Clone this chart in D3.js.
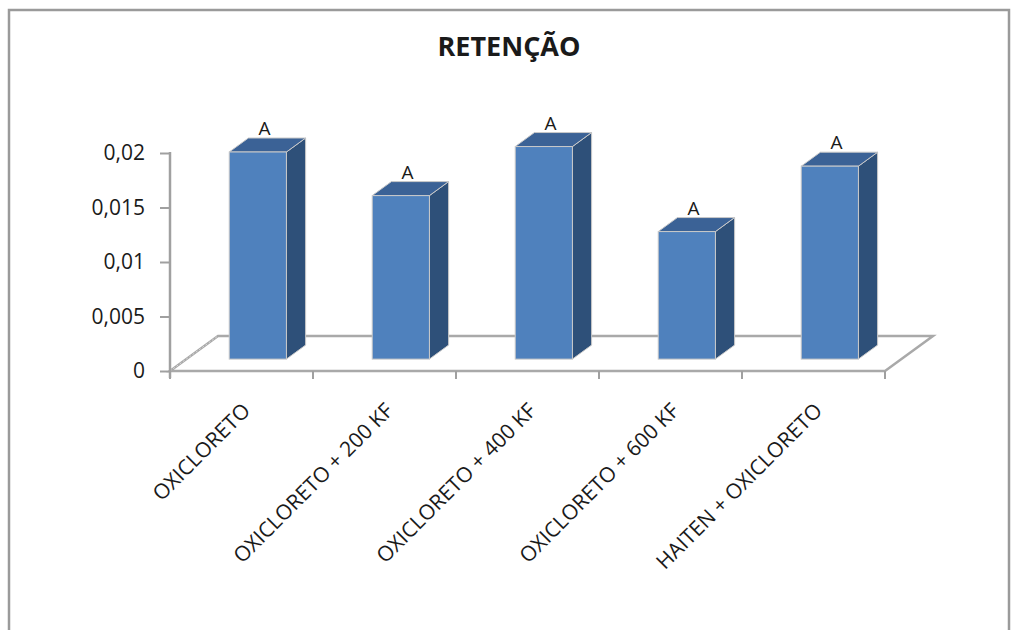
<!DOCTYPE html>
<html>
<head>
<meta charset="utf-8">
<script src="https://cdn.jsdelivr.net/npm/d3@7"></script>
<style>
  body { margin: 0; background: #fff; }
  text { font-family: "Open Sans", sans-serif; fill: #1a1a1a; }
</style>
</head>
<body>
<div class="chart"></div>
<script>
var categories = ["OXICLORETO", "OXICLORETO + 200 KF", "OXICLORETO + 400 KF", "OXICLORETO + 600 KF", "HAITEN + OXICLORETO"];
var values = [0.0190, 0.0150, 0.0195, 0.0117, 0.0177];
var letters = ["A", "A", "A", "A", "A"];
var yTicks = [0, 0.005, 0.01, 0.015, 0.02];

var width = 1021, height = 630;
var plot = {left: 170, right: 885, bottom: 371, top: 153};
var depth = {dx: 48, dy: -35}; // floor depth (oblique)
var barFront = 0.34, barBack = 0.74; // position of bar faces inside floor depth

var svg = d3.select(".chart").append("svg")
    .attr("width", width)
    .attr("height", height);

// outer border
svg.append("rect")
    .attr("x", 9).attr("y", 10)
    .attr("width", 1000).attr("height", 640)
    .attr("fill", "none")
    .attr("stroke", "#9a9a9a")
    .attr("stroke-width", 2.5);

var x = d3.scaleBand()
    .domain(categories)
    .range([plot.left, plot.right])
    .paddingInner(0.6)
    .paddingOuter(0.3);

var y = d3.scaleLinear()
    .domain([0, 0.02])
    .range([plot.bottom, plot.top]);

// floor
var fx = depth.dx, fy = depth.dy;
var floor = svg.append("g").attr("class", "floor");
floor.append("path")
    .attr("d", "M" + plot.left + "," + y(0) + "L" + (plot.left + fx) + "," + (y(0) + fy) +
               "L" + (plot.right + fx) + "," + (y(0) + fy) + "L" + plot.right + "," + y(0) + "Z")
    .attr("fill", "none")
    .attr("stroke", "#a9a9a9")
    .attr("stroke-width", 2.5);
floor.append("path")
    .attr("d", "M" + plot.left + "," + y(0) + "L" + (plot.left + fx) + "," + (y(0) + fy))
    .attr("stroke", "#d8d8d8")
    .attr("stroke-width", 1)
    .attr("stroke-dasharray", "2,2");

// y axis
var yAxis = d3.axisLeft(y)
    .tickValues(yTicks)
    .tickSize(10)
    .tickPadding(15)
    .tickFormat(function(d) { return String(d).replace(".", ","); });

var gy = svg.append("g")
    .attr("transform", "translate(" + plot.left + ",0)")
    .call(yAxis);
gy.select(".domain").attr("stroke", "#a0a0a0").attr("stroke-width", 2.5)
    .attr("d", "M0," + (plot.top - 1) + "V" + (plot.bottom + 7));
gy.selectAll(".tick line").attr("stroke", "#a0a0a0").attr("stroke-width", 2);
gy.selectAll(".tick text")
    .style("font-size", "21px")
    .attr("fill", "#2a2a2a");

// x tick marks on the front edge
var step = x.step();
var bounds = d3.range(categories.length + 1).map(function(i) { return plot.left + i * step; });
svg.append("g").selectAll("line")
    .data(bounds)
    .enter().append("line")
    .attr("x1", function(d) { return d; })
    .attr("x2", function(d) { return d; })
    .attr("y1", y(0))
    .attr("y2", y(0) + 8)
    .attr("stroke", "#a0a0a0")
    .attr("stroke-width", 2);

// bars
var bw = x.bandwidth();
var f0x = fx * barFront, f0y = fy * barFront;
var bdx = fx * (barBack - barFront), bdy = fy * (barBack - barFront);

var bars = svg.append("g").selectAll(".bar")
    .data(values)
    .enter().append("g")
    .attr("class", "bar")
    .attr("transform", function(d, i) { return "translate(" + (x(categories[i]) + f0x) + "," + f0y + ")"; });

// right side face
bars.append("path")
    .attr("d", function(d) {
      var t = y(d), b = y(0);
      return "M" + bw + "," + t + "L" + (bw + bdx) + "," + (t + bdy) + "L" + (bw + bdx) + "," + (b + bdy) + "L" + bw + "," + b + "Z";
    })
    .attr("fill", "#2e5079")
    .attr("stroke", "#c9c9c9")
    .attr("stroke-width", 1);

// top face
bars.append("path")
    .attr("d", function(d) {
      var t = y(d);
      return "M0," + t + "L" + bdx + "," + (t + bdy) + "L" + (bw + bdx) + "," + (t + bdy) + "L" + bw + "," + t + "Z";
    })
    .attr("fill", "#3b6296")
    .attr("stroke", "#c9c9c9")
    .attr("stroke-width", 1);

// front face
bars.append("rect")
    .attr("x", 0)
    .attr("y", function(d) { return y(d); })
    .attr("width", bw)
    .attr("height", function(d) { return y(0) - y(d); })
    .attr("fill", "#4f81bd")
    .attr("stroke", "#c9c9c9")
    .attr("stroke-width", 1);

// letters
bars.append("text")
    .attr("x", bw / 2 + bdx / 2 - 3)
    .attr("y", function(d) { return y(d) + bdy - 3; })
    .attr("text-anchor", "middle")
    .style("font-size", "19px")
    .text(function(d, i) { return letters[i]; });

// category labels
svg.append("g").selectAll("text")
    .data(categories)
    .enter().append("text")
    .attr("transform", function(d) { return "translate(" + (x(d) + bw / 2 + 10) + "," + 412 + ") rotate(-45)"; })
    .attr("text-anchor", "end")
    .style("font-size", "21px")
    .attr("fill", "#1a1a1a")
    .text(function(d) { return d; });

// title
svg.append("text")
    .attr("x", 509)
    .attr("y", 56)
    .attr("text-anchor", "middle")
    .style("font-size", "27px")
    .style("font-weight", "bold")
    .attr("fill", "#000")
    .text("RETENÇÃO");
</script>
</body>
</html>
